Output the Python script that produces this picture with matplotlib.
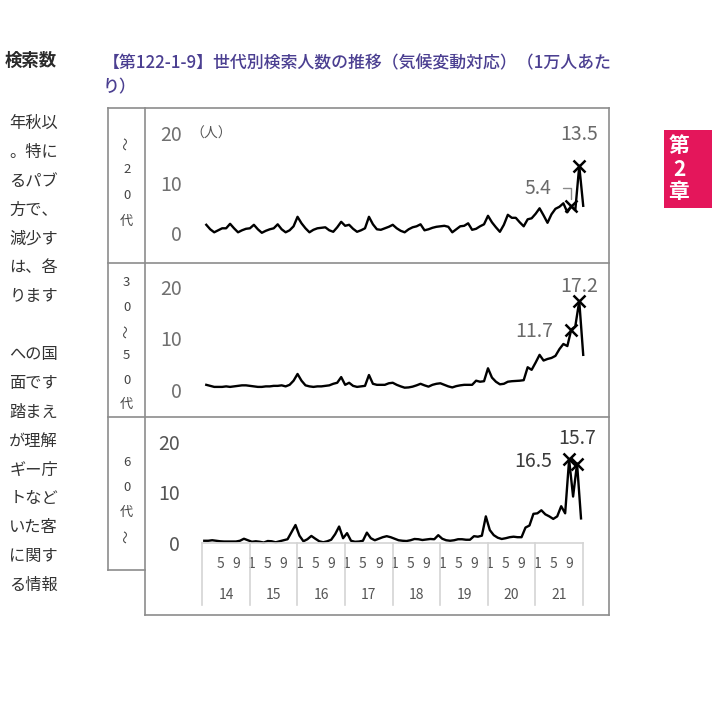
import matplotlib
matplotlib.use("Agg")
import matplotlib.pyplot as plt
from matplotlib.lines import Line2D
from matplotlib.patches import Rectangle
import numpy as np

plt.rcParams['font.family'] = ['Noto Sans CJK JP', 'DejaVu Sans']

W, H = 712, 718

years = ['14', '15', '16', '17', '18', '19', '20', '21']
shown_months = [1, 5, 9]

# searches per 10k people, monthly Jan 2014 - Dec 2021
age_20 = [
    1.7, 0.8, 0.2, 0.6, 1.0, 1.0, 1.9, 1.0, 0.2, 0.6, 0.9, 1.0,
    1.7, 0.8, 0.1, 0.5, 0.8, 1.0, 1.8, 0.8, 0.2, 0.6, 1.4, 3.3,
    2.0, 1.0, 0.2, 0.7, 1.0, 1.1, 1.2, 0.6, 0.3, 1.2, 2.3, 1.5,
    1.7, 0.9, 0.3, 0.6, 1.0, 3.3, 1.8, 0.8, 0.7, 1.0, 1.3, 1.7,
    1.0, 0.5, 0.2, 0.8, 1.2, 1.4, 1.8, 0.6, 0.8, 1.1, 1.3, 1.4,
    1.5, 1.3, 0.2, 0.8, 1.4, 1.5, 2.0, 0.7, 0.9, 1.4, 1.8, 3.5,
    2.2, 1.2, 0.3, 1.7, 3.7, 3.1, 3.1, 2.2, 1.4, 2.8, 3.0, 3.9,
    5.0, 3.6, 2.1, 3.8, 4.9, 5.3, 6.0, 4.2, 5.4, 4.6, 13.5, 5.5,
]
age_30_50 = [
    1.0, 0.8, 0.6, 0.6, 0.6, 0.7, 0.6, 0.7, 0.8, 0.9, 0.9, 0.8,
    0.7, 0.6, 0.6, 0.7, 0.7, 0.8, 0.8, 0.9, 0.7, 1.0, 1.8, 3.1,
    1.8, 0.9, 0.7, 0.6, 0.7, 0.7, 0.8, 0.9, 1.2, 1.4, 2.5, 1.0,
    1.4, 0.8, 0.6, 0.7, 0.8, 2.9, 1.2, 1.0, 1.0, 1.0, 1.3, 1.4,
    1.0, 0.7, 0.45, 0.5, 0.65, 0.9, 1.2, 0.9, 0.65, 1.0, 1.2, 1.3,
    1.0, 0.7, 0.5, 0.75, 0.9, 1.0, 1.0, 1.0, 1.8, 1.6, 1.7, 4.2,
    2.4, 1.6, 1.1, 1.2, 1.6, 1.7, 1.75, 1.8, 1.9, 4.4, 3.9, 5.3,
    6.8, 5.7, 6.0, 6.2, 6.6, 7.9, 8.9, 8.5, 11.7, 12.3, 17.2, 6.8,
]
age_60 = [
    0.5, 0.5, 0.6, 0.5, 0.4, 0.35, 0.35, 0.35, 0.35, 0.5, 0.9, 0.6,
    0.3, 0.4, 0.3, 0.15, 0.45, 0.4, 0.2, 0.4, 0.6, 0.8, 2.2, 3.6,
    1.5, 0.4, 0.8, 1.45, 0.9, 0.4, 0.2, 0.4, 0.7, 1.8, 3.3, 1.0,
    2.0, 0.5, 0.3, 0.35, 0.5, 2.1, 1.0, 0.6, 0.9, 1.2, 1.4, 1.2,
    0.9, 0.6, 0.5, 0.45, 0.6, 0.85, 0.8, 0.65, 0.75, 0.85, 0.8, 1.6,
    0.9, 0.6, 0.5, 0.6, 0.8, 0.8, 0.7, 0.7, 1.4, 1.3, 1.5, 5.3,
    2.6, 1.6, 1.1, 0.85, 1.0, 1.2, 1.3, 1.2, 1.2, 3.1, 3.5, 5.8,
    5.9, 6.5, 5.7, 5.3, 4.8, 5.3, 7.3, 5.9, 16.5, 9.2, 15.7, 4.9,
]
marked = [92, 94]  # Sep / Nov 2021

title_1 = '【第122-1-9】世代別検索人数の推移（気候変動対応）（1万人あた'
title_2 = 'り）'
body_lines = ['年秋以', '。特に', 'るパブ', '方で、', '減少す', 'は、各', 'ります', '',
              'への国', '面です', '踏まえ', 'が理解', 'ギー庁', 'トなど', 'いた客',
              'に関す', 'る情報']


def box(x0, y0, x1, y1):
    return [x0 / W, 1 - y1 / H, (x1 - x0) / W, (y1 - y0) / H]


def fline(xs, ys, **kw):
    fig.add_artist(Line2D([v / W for v in xs], [1 - v / H for v in ys],
                          transform=fig.transFigure, **kw))


def ftext(x, y, s, **kw):
    fig.text(x / W, 1 - y / H, s, **kw)


fig = plt.figure(figsize=(W / 100, H / 100), dpi=100)

# surrounding page
ftext(57, 61, '検索数', ha='right', va='center', fontsize=12.5, fontweight='bold', color='#2a2a2a')
for k, s in enumerate(body_lines):
    ftext(58, 123.3 + k * 28.9, s, ha='right', va='center', fontsize=11.7, color='#333333')
ftext(103, 63, title_1, ha='left', va='center', fontsize=12.2, fontweight='medium',
      color='#4b3f91')
ftext(103, 87, title_2, ha='left', va='center', fontsize=12.2, fontweight='medium',
      color='#4b3f91')

fig.add_artist(Rectangle((664 / W, 1 - 208 / H), 48 / W, 78 / H, transform=fig.transFigure,
                         color='#e4165b', lw=0))
for s, y in zip(['第', '2', '章'], [146, 169, 191]):
    ftext(679, y, s, ha='center', va='center', fontsize=15, fontweight='bold', color='white')

# frame
fc = '#8c8c8c'
fline([108, 609], [108, 108], color=fc, lw=1.2)
fline([108, 609], [262.7, 262.7], color=fc, lw=1.2)
fline([108, 609], [416.7, 416.7], color=fc, lw=1.2)
fline([108, 144.5], [570, 570], color=fc, lw=1.2)
fline([144.5, 609], [615, 615], color=fc, lw=1.2)
fline([108, 108], [108, 570], color=fc, lw=1.2)
fline([144.5, 144.5], [108, 615], color=fc, lw=1.2)
fline([609, 609], [108, 615], color=fc, lw=1.2)

panels = [
    dict(vals=age_20, rect=(204.3, 120, 585.2, 233.3), ppu=5.0,
         chars=['～', '2', '0', '代'], cy=143.3, step=26, tick_color='#707070'),
    dict(vals=age_30_50, rect=(204.3, 275, 585.2, 390), ppu=5.17,
         chars=['3', '0', '～', '5', '0', '代'], cy=282.7, step=24.4, tick_color='#707070'),
    dict(vals=age_60, rect=(202.3, 430, 583, 543.3), ppu=5.08,
         chars=['6', '0', '代', '～'], cy=463, step=24.5, tick_color='#555555'),
]

x = np.arange(len(age_20))
axes = []
for p in panels:
    x0, y0, x1, y1 = p['rect']
    ax = fig.add_axes(box(x0, y0, x1, y1))
    vals = np.array(p['vals'])
    ax.plot(x, vals, color='black', lw=1.7, clip_on=False)
    ax.plot(x[marked], vals[marked], 'x', color='black', ms=8, mew=1.8, clip_on=False)
    ax.set_xlim(-0.5, len(x) - 0.5)
    ax.set_ylim(0, (y1 - y0) / p['ppu'])
    ax.set_yticks([0, 10, 20])
    ax.tick_params(axis='y', length=0, pad=16, labelsize=14, labelcolor=p['tick_color'])
    for side in ['left', 'right', 'top', 'bottom']:
        ax.spines[side].set_visible(False)
    ax.set_xticks([])
    for k, c in enumerate(p['chars']):
        rot = 90 if c == '～' else 0
        ftext(126.7, p['cy'] + k * p['step'], c, ha='center', va='center', fontsize=9.5,
              color='#444444', rotation=rot)
    axes.append(ax)

ax1, ax2, ax3 = axes
ftext(190, 134, '（人）', ha='left', va='center', fontsize=10, color='#555555')

# data labels
lab = dict(fontsize=14, textcoords='offset pixels', va='center')
ax1.annotate('13.5', (94, age_20[94]), xytext=(0, 31), ha='center', color='#6a6a6a', **lab)
ax1.annotate('5.4', (92, age_20[92]), xytext=(-33, 18), ha='center', color='#6a6a6a',
             arrowprops=dict(arrowstyle='-', color='#8a8a8a', lw=1.0,
                             connectionstyle='angle,angleA=0,angleB=90,rad=0',
                             shrinkA=6, shrinkB=5), **lab)
ax2.annotate('17.2', (94, age_30_50[94]), xytext=(0, 15), ha='center', color='#6a6a6a', **lab)
ax2.annotate('11.7', (92, age_30_50[92]), xytext=(-18, -2), ha='right', color='#6a6a6a', **lab)
ax3.annotate('16.5', (92, age_60[92]), xytext=(-17, -2), ha='right', color='#3c3c3c', **lab)
ax3.annotate('15.7', (94, age_60[94]), xytext=(0, 25), ha='center', color='#3c3c3c', **lab)

# category axis on the bottom panel
pos, labs = [], []
for yi, yr in enumerate(years):
    for m in shown_months:
        i = yi * 12 + m - 1
        if i == 0:
            continue
        pos.append(i)
        labs.append(str(m))
ax3.set_xticks(pos, labels=labs)
ax3.set_xticks([yi * 12 + 5.5 for yi in range(len(years))], labels=years, minor=True)
ax3.tick_params(axis='x', which='major', length=0, pad=10, labelsize=10, labelcolor='#555555')
ax3.tick_params(axis='x', which='minor', length=0, pad=32.5, labelsize=10, labelcolor='#555555')
ax3.spines['bottom'].set_visible(True)
ax3.spines['bottom'].set_color('#d4d4d4')
ax3.spines['bottom'].set_linewidth(1.2)
depth = (605 - 543.3) / (543.3 - 430)
for yi in range(len(years) + 1):
    b = yi * 12 - 0.5
    ax3.plot([b, b], [0, -depth], transform=ax3.get_xaxis_transform(), color='#d4d4d4',
             lw=1.2, clip_on=False)

fig.savefig('out.png', dpi=100)
